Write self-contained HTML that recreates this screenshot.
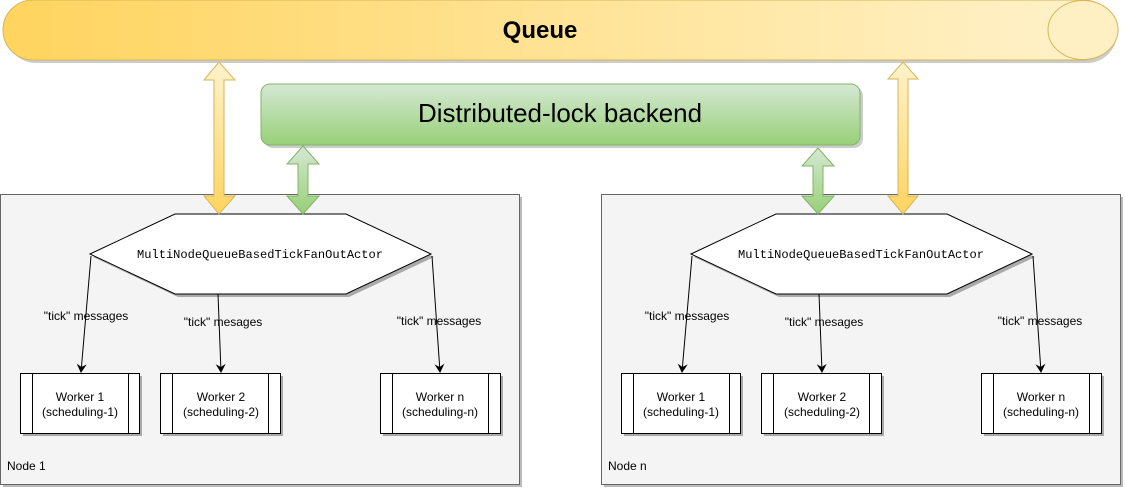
<!DOCTYPE html>
<html><head><meta charset="utf-8"><style>
html,body{margin:0;padding:0;background:#fff}
svg{display:block}
text{font-family:"Liberation Sans",Helvetica,sans-serif}
</style></head><body>
<svg width="1125" height="490" viewBox="0 0 1125 490" xmlns="http://www.w3.org/2000/svg">
<defs>
<linearGradient id="qg" x1="0" x2="1" y1="0" y2="0"><stop offset="0" stop-color="#ffd45e"/><stop offset="1" stop-color="#fff2cc"/></linearGradient>
<linearGradient id="gg" x1="0" x2="0" y1="0" y2="1"><stop offset="0" stop-color="#d5e8d4"/><stop offset="1" stop-color="#97d077"/></linearGradient>
<linearGradient id="ya" x1="0" x2="0" y1="0" y2="1"><stop offset="0" stop-color="#fff2cc"/><stop offset="1" stop-color="#ffd45e"/></linearGradient>
<marker id="ah" markerWidth="10" markerHeight="10" refX="8" refY="5" orient="auto" markerUnits="userSpaceOnUse"><path d="M0,0 L9,5 L0,10 L3,5 Z" fill="#000"/></marker>
</defs>
<!-- Queue -->
<path d="M36,63 H1087 A30,30 0 0 0 1087,3 H36 A30,30 0 0 0 36,63Z" fill="#ccc"/>
<path d="M33,60 H1083 A32,30 0 0 0 1083,0 H33 A30,30 0 0 0 33,60Z" fill="url(#qg)" stroke="#d6b656"/>
<ellipse cx="1083" cy="30" rx="35" ry="29.5" fill="#fff0c4" stroke="#d6b656"/>
<text x="540" y="38" font-size="24" font-weight="bold" text-anchor="middle">Queue</text>
<!-- Green box -->
<rect x="264" y="87" width="599" height="61" rx="9" fill="#ccc"/>
<rect x="261" y="84" width="599" height="61" rx="9" fill="url(#gg)" stroke="#82b366"/>
<text x="560" y="122" font-size="26" text-anchor="middle" textLength="284" lengthAdjust="spacingAndGlyphs">Distributed-lock backend</text>
<!-- Nodes -->
<rect x="3" y="197" width="519" height="290" fill="#bbb"/>
<rect x="0.5" y="194.5" width="519" height="290" fill="#f4f4f4" stroke="#666"/>
<rect x="604" y="197" width="519" height="290" fill="#bbb"/>
<rect x="601.5" y="194.5" width="519" height="290" fill="#f4f4f4" stroke="#666"/>
<g id="n">
<polygon points="93,257 178,217 349,217 434,257 349,297 178,297" fill="#aaa"/>
<polygon points="90,254 175,214 346,214 431,254 346,294 175,294" fill="#fff" stroke="#000"/>
<text x="260" y="258" font-size="12" text-anchor="middle" textLength="246" lengthAdjust="spacingAndGlyphs" style="font-family:'Liberation Mono',monospace">MultiNodeQueueBasedTickFanOutActor</text>
<line x1="91" y1="256" x2="81" y2="372" stroke="#000" marker-end="url(#ah)"/>
<line x1="218" y1="294" x2="221" y2="372" stroke="#000" marker-end="url(#ah)"/>
<line x1="432" y1="256" x2="440" y2="372" stroke="#000" marker-end="url(#ah)"/>
<text x="86" y="320" font-size="12" text-anchor="middle">"tick" messages</text>
<text x="223" y="326" font-size="12" text-anchor="middle">"tick" mesages</text>
<text x="439" y="325" font-size="12" text-anchor="middle">"tick" messages</text>
<g font-size="12" text-anchor="middle">
<rect x="23" y="376" width="119" height="60" fill="#aaa"/>
<rect x="20.5" y="373.5" width="119" height="60" fill="#fff" stroke="#000"/>
<line x1="32.5" y1="374" x2="32.5" y2="434" stroke="#000"/><line x1="128.5" y1="374" x2="128.5" y2="434" stroke="#000"/>
<text x="80" y="401">Worker 1</text><text x="80" y="416">(scheduling-1)</text>
<rect x="163" y="376" width="120" height="60" fill="#aaa"/>
<rect x="160.5" y="373.5" width="120" height="60" fill="#fff" stroke="#000"/>
<line x1="172.5" y1="374" x2="172.5" y2="434" stroke="#000"/><line x1="268.5" y1="374" x2="268.5" y2="434" stroke="#000"/>
<text x="221" y="401">Worker 2</text><text x="221" y="416">(scheduling-2)</text>
<rect x="383" y="376" width="120" height="60" fill="#aaa"/>
<rect x="380.5" y="373.5" width="120" height="60" fill="#fff" stroke="#000"/>
<line x1="392.5" y1="374" x2="392.5" y2="434" stroke="#000"/><line x1="488.5" y1="374" x2="488.5" y2="434" stroke="#000"/>
<text x="440" y="401">Worker n</text><text x="440" y="416">(scheduling-n)</text>
</g>
</g>
<use href="#n" x="601"/>
<text x="7" y="470" font-size="12">Node 1</text>
<text x="608" y="470" font-size="12">Node n</text>
<!-- Arrows -->
<g stroke="#d6b656" fill="url(#ya)">
<path d="M219,62 L235,80 H224 V196 H235 L219,214 L204,196 H214 V80 H204 Z"/>
<path d="M903,62 L918,79 H908 V196 H918 L903,214 L888,196 H898 V79 H888 Z"/>
</g>
<g stroke="#82b366" fill="url(#gg)">
<path d="M303,146 L319,164 H308 V196 H319 L303,214 L287,196 H298 V164 H287 Z"/>
<path d="M818,148 L834,166 H823 V196 H834 L818,214 L802,196 H813 V166 H802 Z"/>
</g>
</svg>
</body></html>
